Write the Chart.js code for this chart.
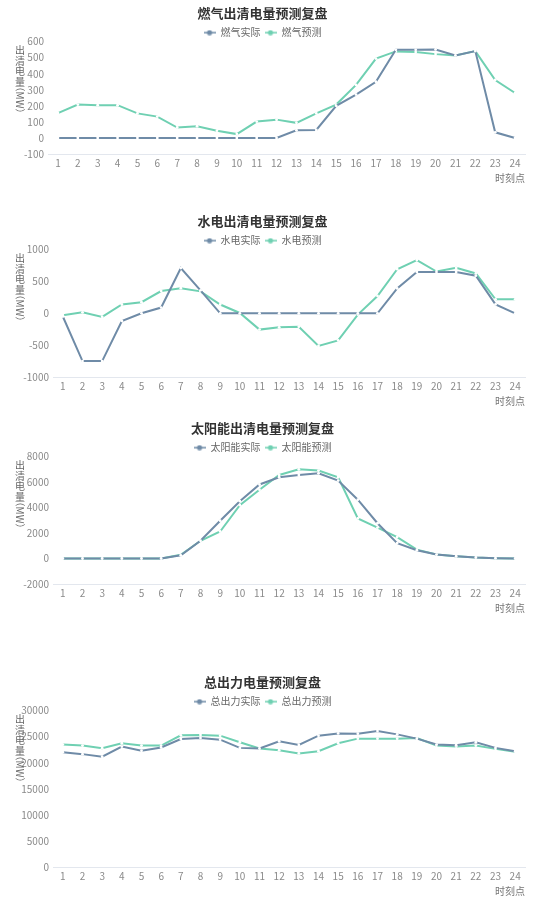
<!DOCTYPE html>
<html>
<head>
<meta charset="utf-8">
<script src="https://cdn.jsdelivr.net/npm/chart.js@4.4.1/dist/chart.umd.min.js"></script>
<style>
    html, body { margin: 0; padding: 0; background: #fff; }
    body { width: 535px; height: 900px; position: relative; overflow: hidden; font-family: 'Noto Sans CJK SC', sans-serif; }
    .box { position: absolute; left: 0; width: 535px; }
    .ytitle {
        position: absolute; left: 14px; top: 45px; width: 12px;
        font-size: 10px; line-height: 10.5px; color: #666; text-align: center;
    }
    .ytitle .ch { display: block; }
    .ytitle .unit { display: block; position: relative; height: 26px; }
    .ytitle .unit span {
        position: absolute; left: 50%; top: 50%; white-space: nowrap;
        transform: translate(-50%, -50%) rotate(90deg);
        font-feature-settings: "halt";
    }
</style>
</head>
<body>
<div class="box" style="top:0;height:186px"><canvas id="c-gas"></canvas></div>
<div class="box" style="top:208px;height:201px"><canvas id="c-hydro"></canvas></div>
<div class="box" style="top:415px;height:201px"><canvas id="c-solar"></canvas></div>
<div class="box" style="top:669px;height:230px"><canvas id="c-total"></canvas></div>
<script>
const hours = ['1', '2', '3', '4', '5', '6', '7', '8', '9', '10', '11', '12',
    '13', '14', '15', '16', '17', '18', '19', '20', '21', '22', '23', '24'];

const gasActual = [0, 0, 0, 0, 0, 0, 0, 0, 0, 0, 0, 0, 48, 50, 200, 270, 350, 549, 549, 551, 514, 541, 35, 0];
const gasForecast = [155, 208, 204, 204, 153, 133, 65, 73, 45, 24, 102, 114, 94, 153, 208, 330, 494, 539, 535, 522, 514, 541, 361, 280];
const gasTicks = [-100, 0, 100, 200, 300, 400, 500, 600];

const hydroActual = [-50, -750, -750, -120, 0, 90, 710, 360, 0, 0, 0, 0, 0, 0, 0, 0, 0, 390, 650, 650, 650, 590, 140, 0];
const hydroForecast = [-30, 15, -56, 138, 174, 349, 395, 344, 138, 5, -256, -220, -210, -513, -426, -20, 272, 692, 836, 656, 713, 626, 220, 220];
const hydroTicks = [-1000, -500, 0, 500, 1000];

const solarActual = [0, 0, 0, 0, 0, 0, 250, 1395, 2970, 4500, 5810, 6380, 6560, 6690, 6120, 4620, 2770, 1210, 650, 310, 180, 80, 25, 0];
const solarForecast = [0, 0, 0, 0, 0, 0, 290, 1395, 2120, 4190, 5400, 6560, 7000, 6900, 6380, 3150, 2430, 1680, 700, 310, 180, 80, 25, 0];
const solarTicks = [-2000, 0, 2000, 4000, 6000, 8000];

const totalActual = [22030, 21650, 21150, 23100, 22290, 22920, 24560, 24750, 24430, 22850, 22730, 24120,
    23420, 25190, 25630, 25570, 26070, 25440, 24620, 23490, 23360, 23930, 22850, 22220];
const totalForecast = [23490, 23300, 22790, 23740, 23300, 23300, 25250, 25320, 25190, 23930, 22730, 22410,
    21780, 22220, 23740, 24620, 24620, 24620, 24750, 23300, 23110, 23300, 22660, 22100];
const totalTicks = [0, 5000, 10000, 15000, 20000, 25000, 30000];

const ACTUAL_COLOR = '#6f8ba7';
const FORECAST_COLOR = '#6fd0b2';
const FONT = "'Noto Sans CJK SC', sans-serif";

// legend marker: short line with a dot in the middle
const legendMarker = (color) => {
    const c = document.createElement('canvas');
    c.width = 12; c.height = 6;
    const g = c.getContext('2d');
    g.strokeStyle = color; g.lineWidth = 1.5;
    g.beginPath(); g.moveTo(0, 3); g.lineTo(12, 3); g.stroke();
    g.fillStyle = color;
    g.beginPath(); g.arc(6, 3, 2.6, 0, Math.PI * 2); g.fill();
    return c;
};

// the legend reserves more room below itself than the reference does
const trimLegend = {
    id: 'trimLegend',
    beforeLayout(chart) {
        const lg = chart.legend;
        if (!lg || lg._trimmed) return;
        const fit = lg.fit.bind(lg);
        lg.fit = function () { fit(); this.height -= 6; };
        lg._trimmed = true;
    },
};

// upright stacked chars, unit turned sideways
const addAxisTitle = (canvas) => {
    const t = document.createElement('div');
    t.className = 'ytitle';
    t.innerHTML = '<span class="ch">出</span><span class="ch">清</span><span class="ch">电</span><span class="ch">量</span>'
        + '<span class="unit"><span>（MW）</span></span>';
    canvas.parentNode.appendChild(t);
};

const makeSeries = (label, data, color) => ({
    label,
    data,
    borderColor: color,
    backgroundColor: color,
    borderWidth: 2,
    tension: 0,
    pointRadius: 1.4,
    pointHoverRadius: 3,
    pointBackgroundColor: '#fff',
    pointBorderWidth: 0,
    legendImg: legendMarker(color),
});

function buildChart(id, title, names, actual, forecast, ticks, axisWidth) {
    const el = document.getElementById(id);
    addAxisTitle(el);
    return new Chart(el, {
        type: 'line',
        plugins: [trimLegend],
        data: {
            labels: hours,
            datasets: [
                makeSeries(names[0], actual, ACTUAL_COLOR),
                makeSeries(names[1], forecast, FORECAST_COLOR),
            ],
        },
        options: {
            responsive: true,
            maintainAspectRatio: false,
            animation: false,
            layout: { padding: { left: 0, right: 10, top: 0, bottom: 0 } },
            plugins: {
                title: {
                    display: true,
                    text: title,
                    color: '#333',
                    font: { family: FONT, size: 13, weight: 'bold' },
                    padding: { top: 5, bottom: 3 },
                },
                legend: {
                    position: 'top',
                    labels: {
                        color: '#666',
                        font: { family: FONT, size: 10 },
                        usePointStyle: true,
                        pointStyleWidth: 12,
                        boxHeight: 6,
                        padding: 4,
                        generateLabels: (chart) => chart.data.datasets.map((ds, i) => ({
                            text: ds.label,
                            fillStyle: ds.borderColor,
                            strokeStyle: ds.borderColor,
                            lineWidth: 0,
                            pointStyle: ds.legendImg,
                            fontColor: '#666',
                            hidden: !chart.isDatasetVisible(i),
                            datasetIndex: i,
                        })),
                    },
                },
                tooltip: { mode: 'index', intersect: false },
            },
            scales: {
                x: {
                    offset: true,
                    grid: { display: false, drawTicks: false },
                    border: { display: true, color: '#e3e7ee' },
                    ticks: { color: '#8a8a8a', font: { family: FONT, size: 10 }, padding: 3, maxRotation: 0, autoSkip: false },
                    title: {
                        display: true,
                        text: '时刻点',
                        align: 'end',
                        color: '#777',
                        font: { family: FONT, size: 10 },
                        padding: { top: 0, bottom: 2 },
                    },
                },
                y: {
                    min: ticks[0],
                    max: ticks[ticks.length - 1],
                    grid: { display: false, drawTicks: false },
                    border: { display: false },
                    ticks: {
                        stepSize: ticks[1] - ticks[0],
                        autoSkip: false,
                        color: '#8a8a8a',
                        font: { family: FONT, size: 10 },
                        padding: 4,
                        callback: (v) => String(v),
                    },
                    afterFit: (scale) => { scale.width = axisWidth; },
                },
            },
        },
    });
}

buildChart('c-gas', '燃气出清电量预测复盘', ['燃气实际', '燃气预测'], gasActual, gasForecast, gasTicks, 48);
buildChart('c-hydro', '水电出清电量预测复盘', ['水电实际', '水电预测'], hydroActual, hydroForecast, hydroTicks, 53);
buildChart('c-solar', '太阳能出清电量预测复盘', ['太阳能实际', '太阳能预测'], solarActual, solarForecast, solarTicks, 53);
buildChart('c-total', '总出力电量预测复盘', ['总出力实际', '总出力预测'], totalActual, totalForecast, totalTicks, 53);
</script>
</body>
</html>
